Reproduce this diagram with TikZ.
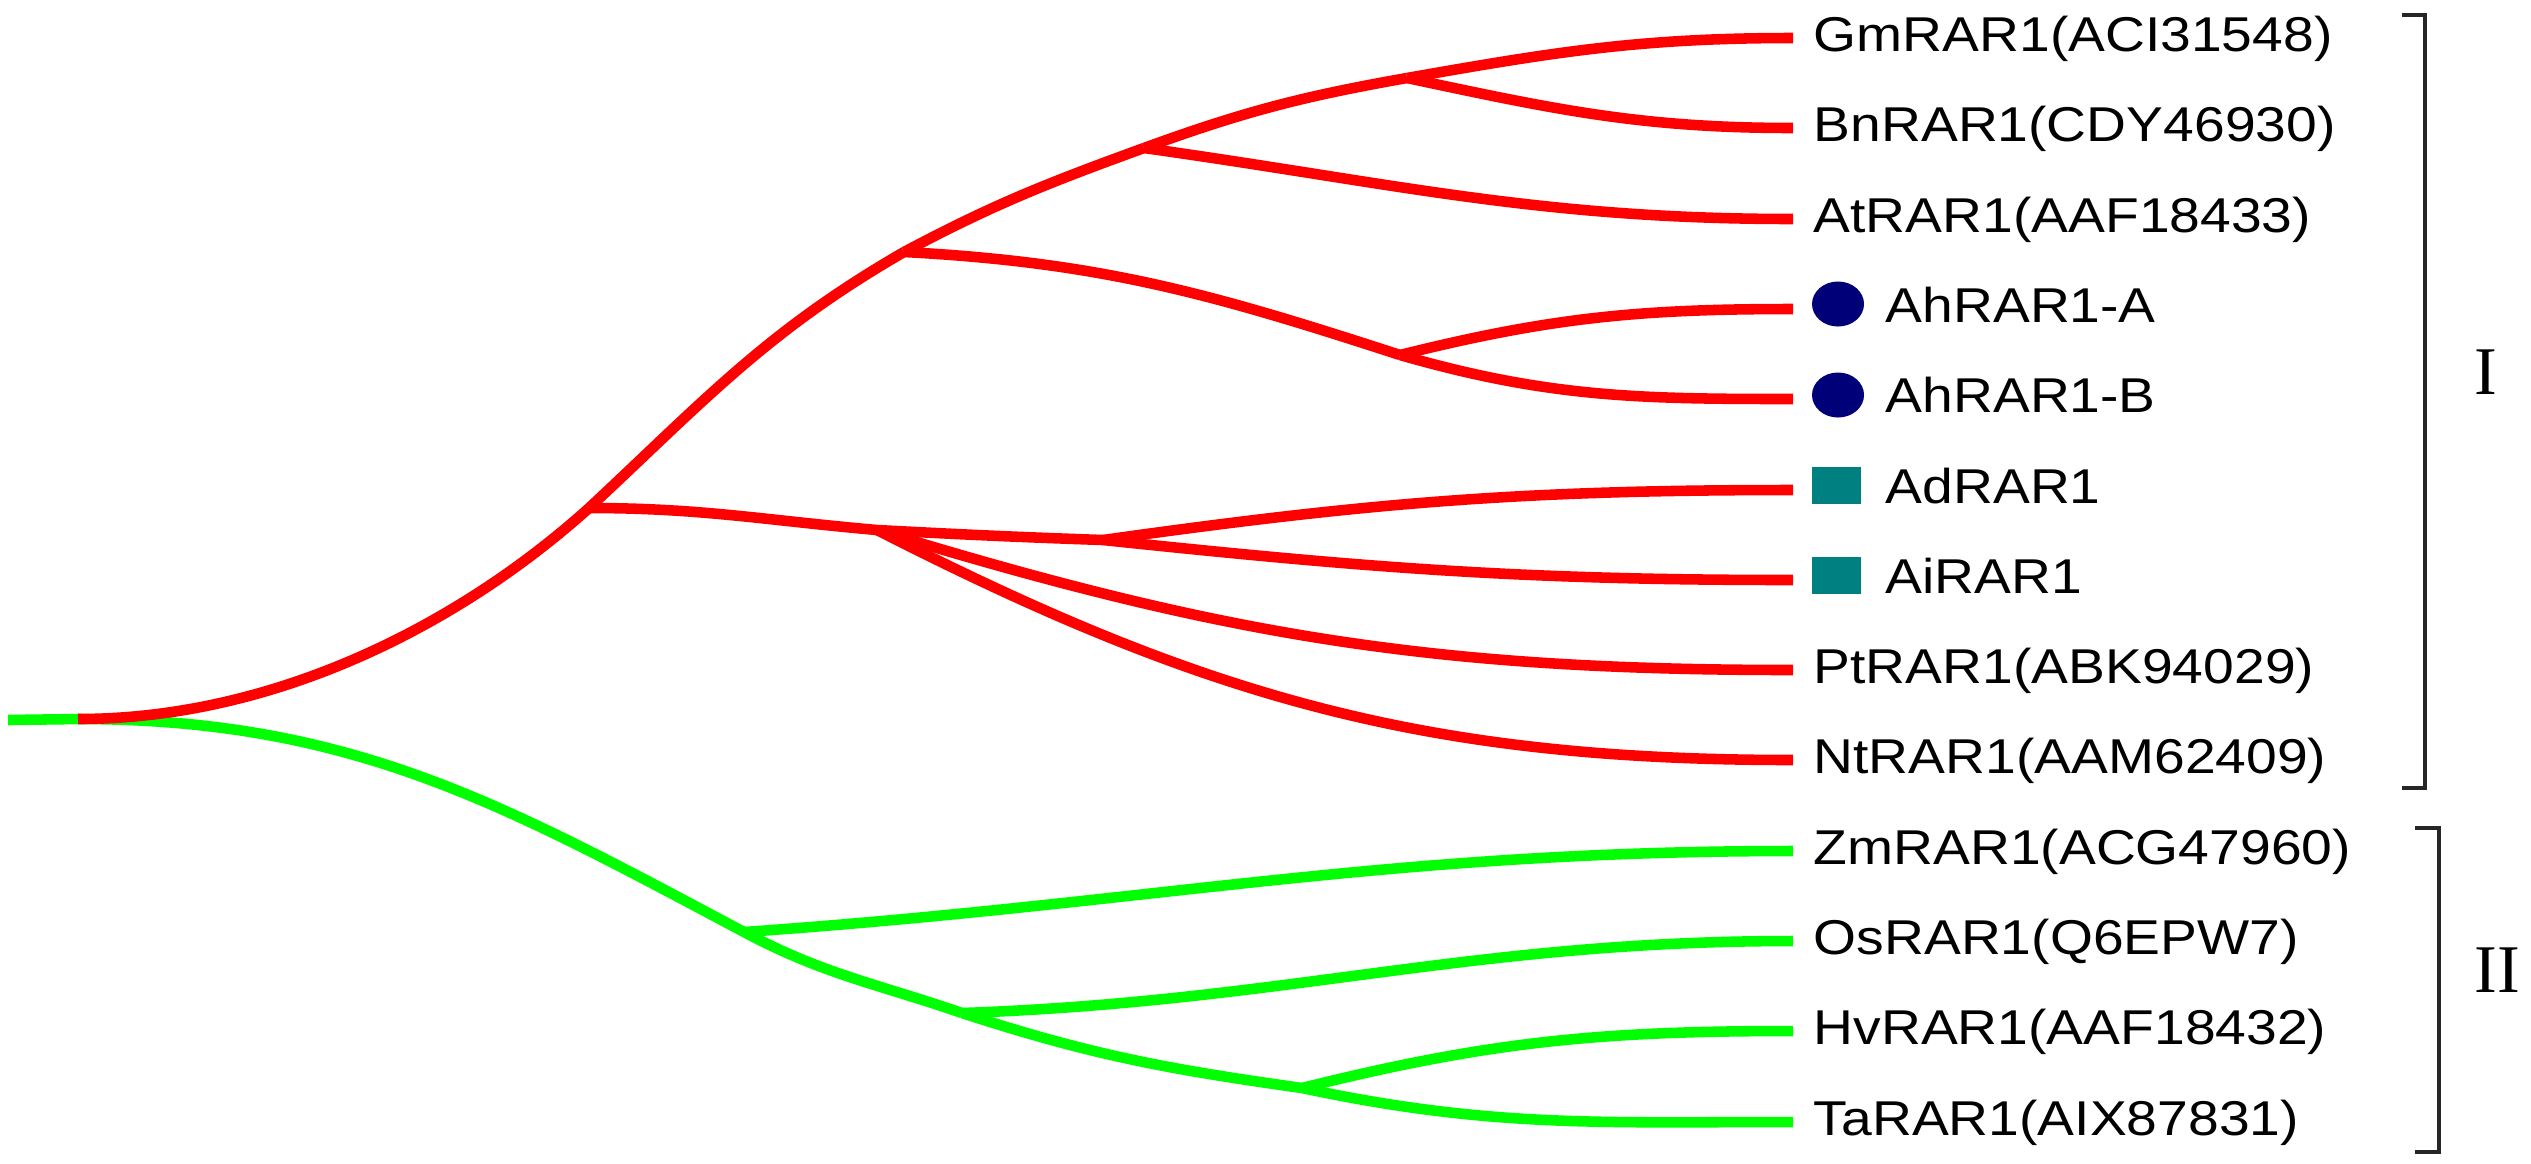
\documentclass[tikz,border=0pt]{standalone}
\usepackage{fontspec}
\setmainfont{Liberation Sans}
\newfontfamily\romanfont{Liberation Serif}
\usetikzlibrary{shapes.geometric}

\definecolor{dotblue}{RGB}{0,0,120}
\definecolor{boxteal}{RGB}{0,128,128}
\newcommand{\taxon}[1]{\scalebox{1.13}[1]{#1}}

\begin{document}
\begin{tikzpicture}[x=0.01cm,y=-0.01cm]
            \tikzset{clade1/.style = {draw=red, line width=3pt}}
            \tikzset{clade2/.style = {draw=green, line width=3pt}}
            \tikzset{leaf/.style = {anchor=base west, inner sep=0pt, font=\fontsize{13.9}{16}\selectfont}}
            \tikzset{dot/.style = {shape=ellipse, fill=dotblue, minimum width=0.52cm, minimum height=0.45cm, inner sep=0pt}}
            \tikzset{box/.style = {shape=rectangle, fill=boxteal, minimum width=0.49cm, minimum height=0.37cm, inner sep=0pt}}
            \tikzset{bracket/.style = {draw=black!85, line width=1pt}}
            \tikzset{group/.style = {font=\romanfont\fontsize{19.4}{22}\selectfont}}
            \useasboundingbox (0,0) rectangle (2531,1163);

            % internal nodes
            \coordinate (base) at (8,720);
            \coordinate (root) at (78,719);
            \coordinate (a1) at (589,508);
            \coordinate (a2) at (904,252);
            \coordinate (a3) at (1144,148);
            \coordinate (a4) at (1407,78);
            \coordinate (a5) at (1400,355);
            \coordinate (a6) at (877,530);
            \coordinate (a7) at (1103,540);
            \coordinate (g1) at (744,932);
            \coordinate (g2) at (962,1013);
            \coordinate (g3) at (1302,1088);

            % leaf tips
            \coordinate (tGm) at (1793,38);
            \coordinate (tBn) at (1793,128);
            \coordinate (tAt) at (1793,219);
            \coordinate (tAhA) at (1793,309);
            \coordinate (tAhB) at (1793,399);
            \coordinate (tAd) at (1793,490);
            \coordinate (tAi) at (1793,580);
            \coordinate (tPt) at (1793,670);
            \coordinate (tNt) at (1793,760);
            \coordinate (tZm) at (1793,851);
            \coordinate (tOs) at (1793,941);
            \coordinate (tHv) at (1793,1031);
            \coordinate (tTa) at (1793,1122);

            % labels
            \node[leaf] (gm) at (1813,51) {\taxon{GmRAR1(ACI31548)}};
            \node[leaf] (bn) at (1813,141) {\taxon{BnRAR1(CDY46930)}};
            \node[leaf] (at) at (1813,232) {\taxon{AtRAR1(AAF18433)}};
            \node[dot] (dAhA) at (1838,304) {};
            \node[leaf] (aha) at (1885,322) {\taxon{AhRAR1-A}};
            \node[dot] (dAhB) at (1838,395) {};
            \node[leaf] (ahb) at (1885,412) {\taxon{AhRAR1-B}};
            \node[box] (dAd) at (1836,485) {};
            \node[leaf] (ad) at (1885,503) {\taxon{AdRAR1}};
            \node[box] (dAi) at (1836,575) {};
            \node[leaf] (ai) at (1885,593) {\taxon{AiRAR1}};
            \node[leaf] (pt) at (1813,683) {\taxon{PtRAR1(ABK94029)}};
            \node[leaf] (nt) at (1813,773) {\taxon{NtRAR1(AAM62409)}};
            \node[leaf] (zm) at (1813,864) {\taxon{ZmRAR1(ACG47960)}};
            \node[leaf] (os) at (1813,954) {\taxon{OsRAR1(Q6EPW7)}};
            \node[leaf] (hv) at (1813,1044) {\taxon{HvRAR1(AAF18432)}};
            \node[leaf] (ta) at (1813,1135) {\taxon{TaRAR1(AIX87831)}};

            % group II
            \draw[clade2] (base) -- (root);
            \draw[clade2] (root) to[out=0,in=152] (g1);
            \draw[clade2] (g1) to[out=4,in=180] (tZm);
            \draw[clade2] (g1) to[out=-28,in=161] (g2);
            \draw[clade2] (g2) to[out=2,in=180] (tOs);
            \draw[clade2] (g2) to[out=-18,in=172] (g3);
            \draw[clade2] (g3) to[out=14,in=180] (tHv);
            \draw[clade2] (g3) to[out=-12,in=180] (tTa);

            % group I
            \draw[clade1] (root) to[out=0,in=222,out distance=2cm,in distance=1.7cm] (a1);
            \draw[clade1] (a1) to[out=43,in=210] (a2);
            \draw[clade1] (a2) to[out=28,in=200] (a3);
            \draw[clade1] (a3) to[out=20,in=190] (a4);
            \draw[clade1] (a4) to[out=10,in=180] (tGm);
            \draw[clade1] (a4) to[out=-12,in=180] (tBn);
            \draw[clade1] (a3) to[out=-8,in=180] (tAt);
            \draw[clade1] (a2) to[out=-3,in=162] (a5);
            \draw[clade1] (a5) to[out=14,in=180] (tAhA);
            \draw[clade1] (a5) to[out=-16,in=180] (tAhB);
            \draw[clade1] (a1) to[out=0,in=175] (a6);
            \draw[clade1] (a6) to[out=-3,in=178] (a7);
            \draw[clade1] (a7) to[out=8,in=180] (tAd);
            \draw[clade1] (a7) to[out=-6,in=180] (tAi);
            \draw[clade1] (a6) to[out=-17,in=180] (tPt);
            \draw[clade1] (a6) to[out=-27,in=180] (tNt);

            % brackets
            \draw[bracket] (2402,15) -- (2425,15) -- (2425,788) -- (2402,788);
            \draw[bracket] (2415,828) -- (2439,828) -- (2439,1152) -- (2415,1152);
            \node[group] (grpI) at (2486,372) {I};
            \node[group] (grpII) at (2497,970) {II};
        \end{tikzpicture}
\end{document}
